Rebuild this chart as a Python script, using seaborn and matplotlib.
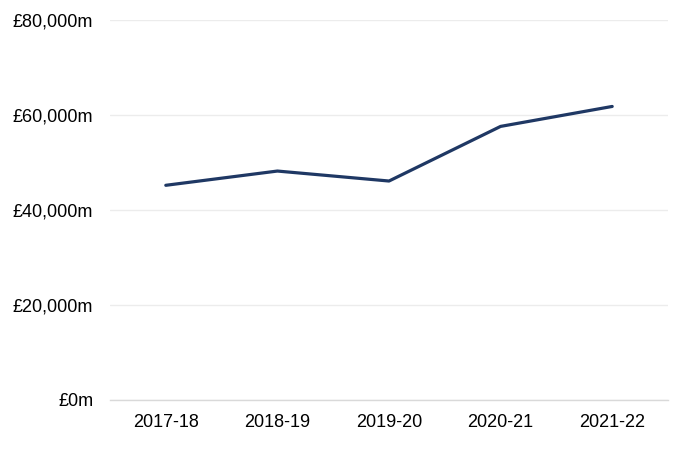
import pandas as pd
import matplotlib
matplotlib.use("Agg")
import matplotlib.pyplot as plt
import seaborn as sns
from matplotlib.ticker import FuncFormatter

# data
years = ["2017-18", "2018-19", "2019-20", "2020-21", "2021-22"]
spend = [45200, 48200, 46100, 57600, 61800]

df = pd.DataFrame({"year": years, "spend": spend})

sns.set_theme(style="white")
plt.rcParams['font.family'] = ['Liberation Sans', 'DejaVu Sans']

fig = plt.figure(figsize=(6.93, 4.49), dpi=100)
ax = fig.add_axes([110 / 693, 1 - 400 / 449, 558 / 693, 380 / 449])

sns.lineplot(data=df, x="year", y="spend", color="#1f3864", linewidth=2.3, ax=ax, sort=False)

ax.set_ylim(0, 80000)
ax.set_xlim(-0.5, 4.5)
ax.set_yticks([0, 20000, 40000, 60000, 80000])
ax.yaxis.set_major_formatter(FuncFormatter(lambda v, p: f"£{v:,.0f}m"))
ax.grid(axis="y", color="#ececec", linewidth=1)
ax.set_axisbelow(True)
for s in ["top", "right", "left"]:
    ax.spines[s].set_visible(False)
ax.spines["bottom"].set_color("#d9d9d9")
ax.spines["bottom"].set_linewidth(1)
ax.tick_params(axis="both", length=0, labelsize=13, colors="black")
ax.tick_params(axis="y", pad=12)
ax.tick_params(axis="x", pad=10)
ax.set_xlabel("")
ax.set_ylabel("")

fig.savefig("out.png", dpi=100)
